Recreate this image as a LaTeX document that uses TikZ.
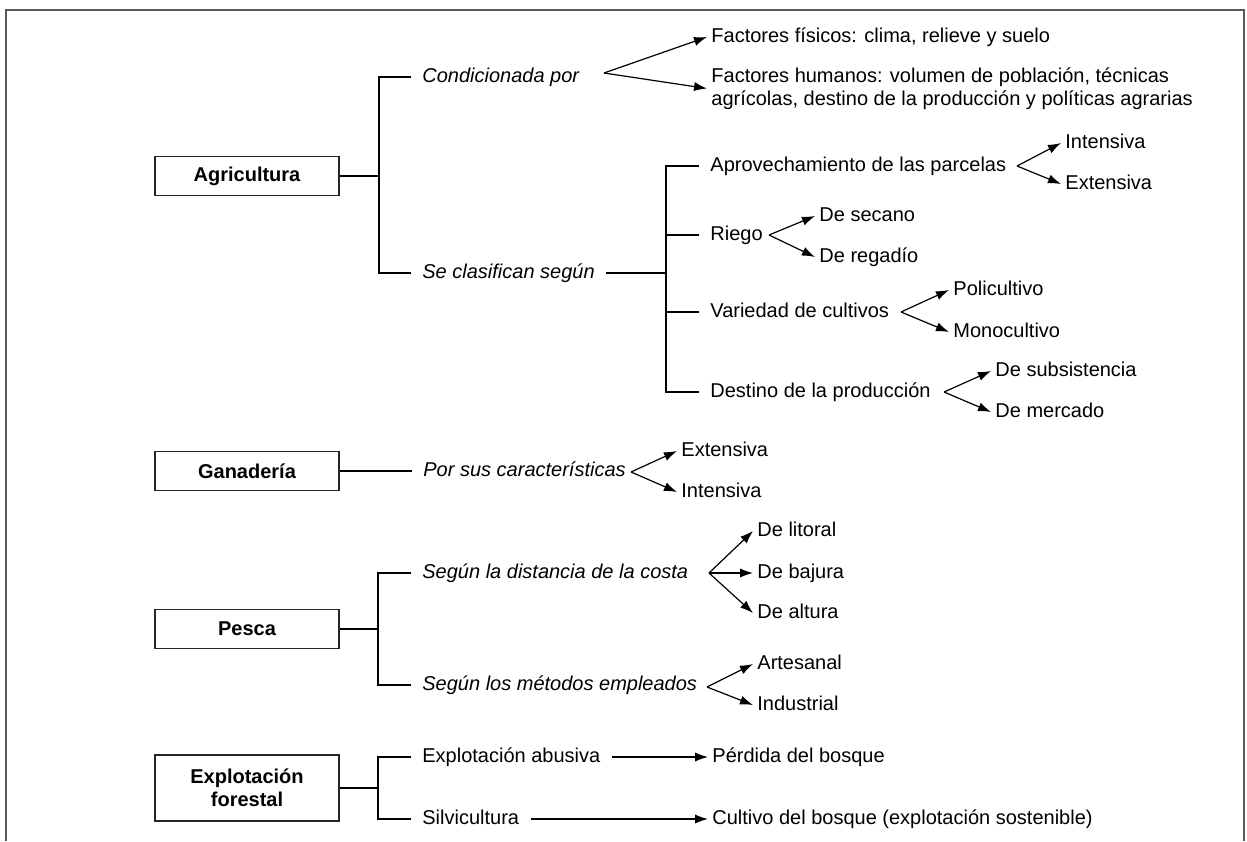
\documentclass[tikz,border=0pt]{standalone}
\usepackage{fontspec}
\setmainfont{Liberation Sans}
\usetikzlibrary{arrows.meta}
\tikzset{
  topic/.style={draw=black!85, line width=0.8pt, minimum width=92pt, minimum height=19.5pt,
    inner sep=2pt, align=center, font=\bfseries\fontsize{10}{11.5}\selectfont},
  base/.style={anchor=west, inner xsep=2pt, inner ysep=0pt, font=\fontsize{10}{11.5}\selectfont},
  txt/.style={base, text height=7.2pt, text depth=2pt},
  sub/.style={txt, inner xsep=5.5pt},
  crit/.style={sub, font=\itshape\fontsize{10}{11.5}\selectfont},
  link/.style={line width=0.6pt},
  fork/.style={line width=0.6pt, -{Latex[length=6.5pt,width=4.6pt]}}
}
\begin{document}
\begin{tikzpicture}[x=0.5pt,y=-0.5pt]
\useasboundingbox (0,0) rectangle (1247,841);
\draw[black!65, line width=1pt] (6,841) -- (6,10) -- (1244,10) -- (1244,841);

% Agricultura
\node[topic] (agri) at (247,176) {Agricultura};
\coordinate (bA) at (379,176);
\node[crit] (cond) at (411,77) {Condicionada por};
\node[crit] (clas) at (411,273) {Se clasifican según};
\draw[link] (agri) -- (bA);
\draw[link] (cond.west) -| (bA) |- (clas.west);

\coordinate (pCond) at (604,73);
\node[txt] (fis) at (707,37) {Factores físicos: clima, relieve y suelo};
\node[base, align=left] (hum) at (707,88.5) {Factores humanos: volumen de población, técnicas\\agrícolas, destino de la producción y políticas agrarias};

\coordinate (bB) at (666,273);
\node[sub] (apro) at (699,166) {Aprovechamiento de las parcelas};
\node[sub] (rieg) at (699,235) {Riego};
\node[sub] (vari) at (699,312) {Variedad de cultivos};
\node[sub] (dest) at (699,392) {Destino de la producción};
\draw[link] (clas) -- (bB);
\draw[link] (apro.west) -| (bB) |- (dest.west);
\draw[link] (rieg.west) -- (rieg.west -| bB);
\draw[link] (vari.west) -- (vari.west -| bB);

\coordinate (pApro) at (1017,166);
\coordinate (pRieg) at (769,235);
\coordinate (pVari) at (901,312);
\coordinate (pDest) at (944,392);
\node[txt] (int1) at (1061,143) {Intensiva};
\node[txt] (ext1) at (1061,184) {Extensiva};
\node[txt] (sec) at (815,216) {De secano};
\node[txt] (reg) at (815,257) {De regadío};
\node[txt] (poli) at (949,290) {Policultivo};
\node[txt] (mono) at (949,332) {Monocultivo};
\node[txt] (subs) at (991,371) {De subsistencia};
\node[txt] (merc) at (991,412) {De mercado};

% Ganaderia
\node[topic] (gana) at (247,471) {Ganadería};
\node[crit] (cara) at (412,471) {Por sus características};
\draw[link] (gana) -- (cara);
\coordinate (pCara) at (631,472);
\node[txt] (ext2) at (677,451) {Extensiva};
\node[txt] (int2) at (677,492) {Intensiva};

% Pesca
\node[topic] (pesc) at (247,629) {Pesca};
\coordinate (bC) at (378,629);
\node[crit] (dist) at (411,573) {Según la distancia de la costa};
\node[crit] (meto) at (411,685) {Según los métodos empleados};
\draw[link] (pesc) -- (bC);
\draw[link] (dist.west) -| (bC) |- (meto.west);
\coordinate (pDist) at (709,573);
\coordinate (pMeto) at (707,687);
\node[txt] (lit) at (753,531) {De litoral};
\node[txt] (baj) at (753,573) {De bajura};
\node[txt] (alt) at (753,613) {De altura};
\node[txt] (art) at (753,664) {Artesanal};
\node[txt] (ind) at (753,705) {Industrial};

% Explotacion forestal
\node[topic, minimum height=33pt] (fore) at (247,788) {Explotación\\forestal};
\coordinate (bD) at (378,788);
\node[sub] (abus) at (411,757) {Explotación abusiva};
\node[sub] (silv) at (411,819) {Silvicultura};
\draw[link] (fore) -- (bD);
\draw[link] (abus.west) -| (bD) |- (silv.west);
\node[txt] (perd) at (708,757) {Pérdida del bosque};
\node[txt] (cult) at (708,819) {Cultivo del bosque (explotación sostenible)};
\draw[fork] (abus) -- (perd);
\draw[fork] (silv) -- (cult);

\foreach \a/\b in {pCond/fis, pCond/hum, pApro/int1, pApro/ext1, pRieg/sec, pRieg/reg,
                   pVari/poli, pVari/mono, pDest/subs, pDest/merc, pCara/ext2, pCara/int2,
                   pDist/lit, pDist/baj, pDist/alt, pMeto/art, pMeto/ind}
  \draw[fork] (\a) -- (\b.west);
\end{tikzpicture}
\end{document}
